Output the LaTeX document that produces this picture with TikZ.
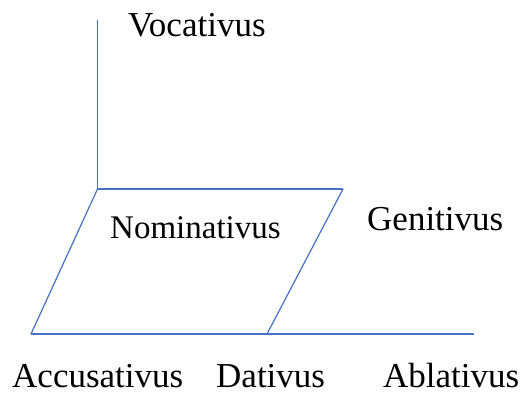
\documentclass[tikz,border=0pt]{standalone}
\usepackage{fontspec}
\setmainfont{Liberation Serif}
\definecolor{lineblue}{RGB}{68,114,196}
\begin{document}
\begin{tikzpicture}[x=1pt,y=-1pt,
  edge/.style={draw=lineblue,line width=1.2pt},
  lbl/.style={anchor=base west,inner sep=0pt,font=\fontsize{35}{40}\selectfont,text=black}]
\useasboundingbox (0,0) rectangle (528,396);
\coordinate (top) at (97.5,20);
\coordinate (tl) at (97.5,189);
\coordinate (tr) at (343,189);
\coordinate (bl) at (31,334);
\coordinate (br) at (267,334);
\coordinate (be) at (474,334);
\draw[edge] (top) -- (tl);
\draw[edge] (tl) -- (tr);
\draw[edge] (tr) -- (br);
\draw[edge] (tl) -- (bl);
\draw[edge] (bl) -- (be);
\node[lbl] (voc) at (128,37) {Vocativus};
\node[lbl,font=\fontsize{33}{38}\selectfont] (nom) at (110,238) {Nominativus};
\node[lbl] (gen) at (367,230) {Genitivus};
\node[lbl] (acc) at (12,387) {Accusativus};
\node[lbl] (dat) at (216,387) {Dativus};
\node[lbl] (abl) at (383,387) {Ablativus};
\end{tikzpicture}
\end{document}
